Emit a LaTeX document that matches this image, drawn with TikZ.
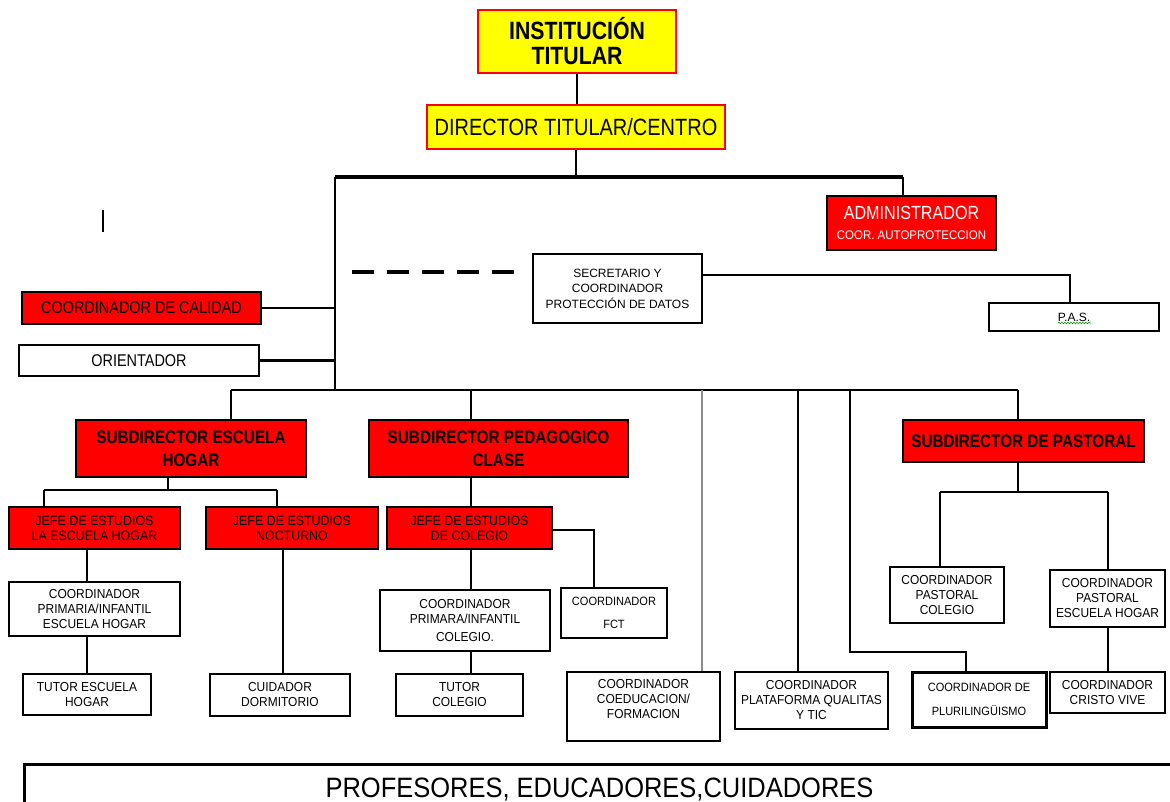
\documentclass[tikz,border=0pt]{standalone}
\usepackage{fontspec}
\setmainfont{Liberation Sans}
\newfontfamily\nf[FakeStretch=0.85]{Liberation Sans}
\newfontfamily\mf[FakeStretch=0.92]{Liberation Sans}
\newfontfamily\pf[FakeStretch=0.91]{Liberation Sans}
\usetikzlibrary{decorations.pathmorphing}
\definecolor{pred}{RGB}{255,0,0}
\definecolor{pyel}{RGB}{255,255,0}
\begin{document}
\begin{tikzpicture}[x=1pt,y=-1pt,
  box/.style={draw=black, line width=2.5pt, fill=white, inner sep=1pt, align=center, text=black},
  rbox/.style={box, fill=pred},
  ybox/.style={draw=pred, line width=2.5pt, fill=pyel, inner sep=1pt, align=center},
  conn/.style={line width=2.6pt},
  thinc/.style={line width=1.1pt},
  sub/.style={font=\nf\bfseries\fontsize{18}{23}\selectfont},
  jefe/.style={font=\mf\fontsize{13.5}{15}\selectfont},
  crd/.style={font=\mf\fontsize{13}{15}\selectfont},
  big/.style={font=\nf\fontsize{17}{19}\selectfont}
]
\useasboundingbox (0,0) rectangle (1170,802);

% top
\node[ybox, minimum width=198, minimum height=63, font=\nf\bfseries\fontsize{25}{25}\selectfont] (inst) at (577,41.5) {INSTITUCIÓN\\TITULAR};
\node[ybox, minimum width=298, minimum height=44, font=\nf\fontsize{23.5}{26}\selectfont] (dir) at (576,127) {DIRECTOR TITULAR/CENTRO};
\node[rbox, minimum width=169, minimum height=54, text=white, font=\nf\fontsize{19}{21}\selectfont] (admin) at (911.5,223) {ADMINISTRADOR\\[-1pt]{\mf\fontsize{12.5}{14}\selectfont COOR. AUTOPROTECCION}};
\node[box, minimum width=169, minimum height=69, font=\fontsize{12}{15.5}\selectfont] (secr) at (617.5,288.5) {SECRETARIO Y\\COORDINADOR\\PROTECCIÓN DE DATOS};
\node[box, minimum width=170, minimum height=28, font=\fontsize{12}{14}\selectfont] (pas) at (1074,317) {P.A.S.};
\node[rbox, minimum width=239, minimum height=32, big] (cal) at (141.5,308) {COORDINADOR DE CALIDAD};
\node[box, minimum width=240, minimum height=31, big] (ori) at (139,360.5) {ORIENTADOR};

% subdirectors
\node[rbox, minimum width=230, minimum height=57, sub] (sdeh) at (191,448.5) {SUBDIRECTOR ESCUELA\\HOGAR};
\node[rbox, minimum width=259, minimum height=57, sub] (sdped) at (498.5,448.5) {SUBDIRECTOR PEDAGOGICO\\CLASE};
\node[rbox, minimum width=241, minimum height=42, sub] (sdpas) at (1023.5,441) {SUBDIRECTOR DE PASTORAL};

% jefes
\node[rbox, minimum width=171, minimum height=42, jefe] (jeh) at (94.5,528) {JEFE DE ESTUDIOS\\LA ESCUELA HOGAR};
\node[rbox, minimum width=172, minimum height=42, jefe] (jnoc) at (292,528) {JEFE DE ESTUDIOS\\NOCTURNO};
\node[rbox, minimum width=165, minimum height=42, jefe] (jcol) at (469.5,528) {JEFE DE ESTUDIOS\\DE COLEGIO};

% coordinators
\node[box, minimum width=171, minimum height=54, crd] (cpeh) at (94.5,609) {COORDINADOR\\PRIMARIA/INFANTIL\\ESCUELA HOGAR};
\node[box, minimum width=170, minimum height=61, crd] (cpcol) at (465,620.5) {COORDINADOR\\PRIMARA/INFANTIL\\[3pt]COLEGIO.};
\node[box, line width=1.6pt, minimum width=106, minimum height=50, font=\mf\fontsize{12}{14}\selectfont] (fct) at (614,613) {COORDINADOR\\[9pt]FCT};
\node[box, minimum width=128, minimum height=41, crd] (teh) at (87,694.5) {TUTOR ESCUELA\\HOGAR};
\node[box, minimum width=140, minimum height=42, crd] (cuid) at (280,695) {CUIDADOR\\DORMITORIO};
\node[box, minimum width=127, minimum height=42, crd] (tcol) at (459.5,695) {TUTOR\\COLEGIO};
\node[box, minimum width=153, minimum height=69, crd] (coed) at (643.5,706.5) {COORDINADOR\\COEDUCACION/\\FORMACION\\\mbox{}};
\node[box, minimum width=153, minimum height=57, crd] (plat) at (811.5,700.5) {COORDINADOR\\PLATAFORMA QUALITAS\\Y TIC};
\node[box, line width=3pt, minimum width=134, minimum height=55, font=\mf\fontsize{12}{14}\selectfont] (plur) at (979,699.5) {COORDINADOR DE\\[10pt]PLURILINGÜISMO};
\node[box, minimum width=114, minimum height=56, crd] (cpc) at (947,595) {COORDINADOR\\PASTORAL\\COLEGIO};
\node[box, minimum width=115, minimum height=57, crd] (cpeh2) at (1107.5,598.5) {COORDINADOR\\PASTORAL\\ESCUELA HOGAR};
\node[box, minimum width=115, minimum height=41, crd] (cristo) at (1107.5,692.5) {COORDINADOR\\CRISTO VIVE};

% bottom
\node[box, line width=3pt, anchor=north west, minimum width=1150, minimum height=50, font=\pf\fontsize{28}{30}\selectfont] (prof) at (23,763) {PROFESORES, EDUCADORES,CUIDADORES};

% stray mark
\draw[line width=2pt] (103,210) -- (103,232);

% P.A.S. squiggle
\draw[green!60!black, line width=0.6pt, decorate, decoration={snake, amplitude=0.8pt, segment length=3pt}] ([xshift=-16pt, yshift=-6pt]pas.center) -- ([xshift=17pt, yshift=-6pt]pas.center);

% coordinates
\coordinate (tl) at (335,177);
\coordinate (tr) at (903,177);
\coordinate (bl) at (335,390);
\coordinate (dash0) at (352,272);
\coordinate (pj) at (1070,275);
\coordinate (b1) at (231,390);
\coordinate (b2) at (1018,390);
\coordinate (b3) at (471,390);
\coordinate (b4) at (702,390);
\coordinate (b5) at (798,390);
\coordinate (b6) at (850,390);
\coordinate (b6a) at (966,652);
\coordinate (p1) at (940,492);
\coordinate (p2) at (1108,492);
\coordinate (h0) at (168,490);
\coordinate (h1) at (44,490);
\coordinate (h2) at (277,490);
\coordinate (xeh) at (87,0);
\coordinate (xnoc) at (283,0);
\coordinate (xf) at (594,530);

% top connectors
\draw[line width=2pt] (inst.south) -- (inst.south |- dir.north);
\draw[line width=2pt] (dir.south) -- (dir.south |- tl);
\draw[line width=3.5pt] (tl) -- (tr);
\draw[conn] (tr) -- (tr |- admin.north);
\draw[conn] (tl) -- (bl);
\draw[conn] (cal.east) -- (cal.east -| tl);
\draw[conn] (ori.east) -- (ori.east -| tl);
\draw[line width=4pt, dash pattern=on 22pt off 13pt] (dash0) -- ([xshift=-13pt]dash0 -| secr.west);
\draw[conn] (secr.east |- pj) -- (pj) -- (pj |- pas.north);

% second level bar
\draw[conn] (b1) -- (b2);
\draw[conn] (b1) -- (b1 |- sdeh.north);
\draw[conn] (b3) -- (b3 |- sdped.north);
\draw[line width=1.8pt, black!45] (b4) -- (b4 |- coed.north);
\draw[conn] (b5) -- (b5 |- plat.north);
\draw[conn] (b6) |- (b6a) -- (b6a |- plur.north);
\draw[conn] (b2) -- (b2 |- sdpas.north);

% pastoral
\draw[conn] (sdpas.south -| b2) -- (b2 |- p1);
\draw[conn] (p1) -- (p2);
\draw[conn] (p1) -- (p1 |- cpc.north);
\draw[conn] (p2) -- (p2 |- cpeh2.north);
\draw[conn] (cpeh2.south -| p2) -- (p2 |- cristo.north);

% escuela hogar
\draw[conn] (sdeh.south -| h0) -- (h0);
\draw[conn] (h1) -- (h2);
\draw[conn] (h1) -- (h1 |- jeh.north);
\draw[conn] (h2) -- (h2 |- jnoc.north);
\draw[conn] (jeh.south -| xeh) -- (xeh |- cpeh.north);
\draw[thinc] (cpeh.south -| xeh) -- (xeh |- teh.north);
\draw[conn] (jnoc.south -| xnoc) -- (xnoc |- cuid.north);

% pedagogico
\draw[conn] (sdped.south -| b3) -- (b3 |- jcol.north);
\draw[conn] (jcol.south -| b3) -- (b3 |- cpcol.north);
\draw[thinc] (cpcol.south -| b3) -- (b3 |- tcol.north);
\draw[thinc] (jcol.east |- xf) -- (xf) -- (xf |- fct.north);
\end{tikzpicture}
\end{document}
